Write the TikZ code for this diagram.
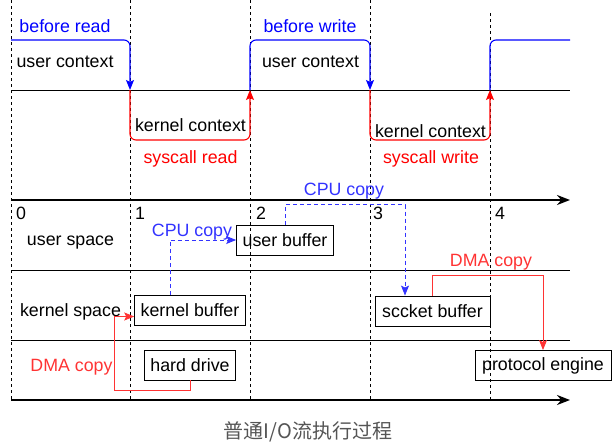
\documentclass[tikz,border=0pt]{standalone}
\usepackage{fontspec}
\setmainfont{Liberation Sans}
\newfontfamily\cjk{Noto Sans CJK SC}
\usetikzlibrary{arrows.meta,calc}
\definecolor{ublue}{HTML}{0000FF}
\definecolor{tblue}{HTML}{3333FF}
\definecolor{kred}{HTML}{FF0000}
\definecolor{dred}{HTML}{FF3333}
\definecolor{capgray}{HTML}{555555}

\begin{document}
\begin{tikzpicture}[
    x=1pt, y=-1pt,
    txt/.style={font=\fontsize{17.8}{20}\selectfont, inner sep=0pt},
    lbl/.style={txt, yshift=-1.5pt},
    buf/.style={draw, txt, inner xsep=6pt, minimum height=30pt, line width=0.9pt},
    grid/.style={dash pattern=on 3pt off 3pt, line width=0.8pt},
    lane/.style={line width=0.9pt},
    axis/.style={line width=2pt, -{Stealth[length=13pt,width=10pt]}},
    tip/.style={-{Stealth[length=10pt,width=8pt,inset=2pt]}},
    ctx/.style={line width=1.1pt, rounded corners=6pt},
    cpu/.style={tip, tblue, dashed, dash pattern=on 4pt off 3pt, line width=0.9pt},
    dma/.style={tip, dred, line width=0.9pt}
]
    \useasboundingbox (0,0) rectangle (612,442);

    % time grid
    \foreach \gx/\gy in {11/0, 130/0, 250/0, 370/0, 490/13}
        \draw[grid] (\gx,\gy) -- (\gx,400);
    \foreach \ly in {90, 270, 340}
        \draw[lane] (11,\ly) -- (570,\ly);
    \draw[axis] (11,200) -- (570,200);
    \draw[axis] (11,400) -- (570,400);

    % switch points on the context line
    \coordinate (s0) at (11,40);
    \coordinate (s1) at (130,90);
    \coordinate (s2) at (250,90);
    \coordinate (s3) at (370,90);
    \coordinate (s4) at (490,90);
    \coordinate (s5) at (570,40);

    % user / kernel context
    \draw[ctx, ublue, tip] (s0) -| (s1);
    \draw[ctx, kred, tip] (s1) -- (130,140) -- (250,140) -- (s2);
    \draw[ctx, ublue, tip] (s2) -- (250,40) -- (370,40) -- (s3);
    \draw[ctx, kred, tip] (s3) -- (370,140) -- (490,140) -- (s4);
    \draw[ctx, ublue] (s4) |- (s5);

    \node[lbl, ublue] (bread) at (65,25) {before read};
    \node[lbl] (uctx1) at (65,60) {user context};
    \node[lbl] (kctx1) at (190.5,124) {kernel context};
    \node[lbl, kred] (sread) at (190.5,157) {syscall read};
    \node[lbl, ublue] (bwrite) at (310,25) {before write};
    \node[lbl] (uctx2) at (310.5,60) {user context};
    \node[lbl] (kctx2) at (430.5,130) {kernel context};
    \node[lbl, kred] (swrite) at (431,157) {syscall write};

    % time steps
    \foreach \n/\nx in {0/21, 1/140, 2/261, 3/378, 4/500}
        \node[lbl] (n\n) at (\nx,212) {\n};

    % spaces
    \node[lbl] (uspace) at (70.5,241) {user space};
    \node[lbl] (kspace) at (70.5,310) {kernel space};

    % buffers
    \node[buf, minimum width=90pt] (ubuf) at (285,240) {user buffer};
    \node[buf, minimum width=110pt] (kbuf) at (190,310.5) {kernel buffer};
    \node[buf, minimum width=90pt] (hd) at (190,365) {hard drive};
    \node[buf, minimum width=115pt] (sbuf) at (432.5,311) {sccket buffer};
    \node[buf, minimum width=136pt] (pe) at (543,365.5) {protocol engine};

    % copies
    \draw[dma] (hd.south) -- ++(0,10) -| ($(kbuf.west)+(-20,6)$) -- ($(kbuf.west)+(0,6)$);
    \node[lbl, dred] (dma1) at (71.5,366) {DMA copy};

    \draw[cpu] ($(kbuf.north)+(-20,0)$) |- (ubuf.west);
    \node[lbl, tblue] (cpu1) at (192,231) {CPU copy};

    \draw[cpu] (ubuf.north) -- ++(0,-20) -| ($(sbuf.north)+(-27.5,0)$);
    \node[lbl, tblue] (cpu2) at (344,190) {CPU copy};

    \draw[dma] (sbuf.north) -- ++(0,-20) -| (pe.north);
    \node[lbl, dred] (dma2) at (491,261) {DMA copy};

    % caption
    \node[font=\cjk\fontsize{20}{22}\selectfont, capgray, inner sep=0pt] (cap) at (308,432) {普通I/O流执行过程};
\end{tikzpicture}
\end{document}
